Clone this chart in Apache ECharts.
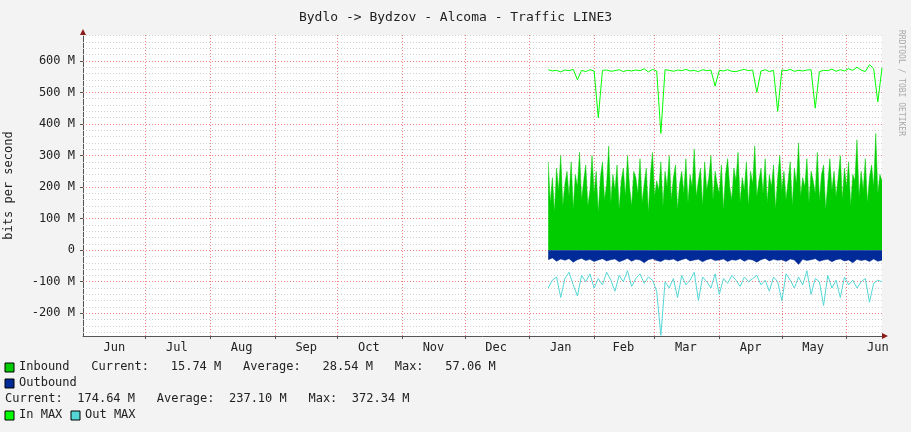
<!DOCTYPE html>
<html><head><meta charset="utf-8">
<script src="https://cdn.jsdelivr.net/npm/echarts@6/dist/echarts.min.js"></script>
<style>html,body{margin:0;padding:0;background:#f3f3f3}#c{width:911px;height:432px}</style>
</head><body><div id="c"></div>
<script>
// x = days since 1 Jun (previous year)
const startDay = 223, stepDay = 2, stepDayIn = 1;
const monthBounds = [30,61,92,122,153,183,214,245,274,305,335,366];
const monthLabelPos = [15,45,76,107,137,168,198,229,259,289,320,350,381];
const monthLabels = ['Jun','Jul','Aug','Sep','Oct','Nov','Dec','Jan','Feb','Mar','Apr','May','Jun'];
const yTicks = [-200,-100,0,100,200,300,400,500,600];

const inMax = [572,568,570,565,571,569,573,540,570,566,572,568,420,570,571,567,569,572,566,570,568,571,569,575,565,573,568,370,572,570,567,571,569,573,568,570,566,572,569,571,520,570,568,572,567,566,570,573,569,571,500,568,572,566,570,440,571,569,573,567,570,568,571,572,450,566,570,569,574,567,572,568,575,570,580,571,566,588,575,470,578];
const inbound = [280,150,230,120,260,190,300,140,210,250,170,280,130,240,200,310,160,220,270,140,190,300,180,250,120,230,280,160,210,330,150,240,190,270,130,220,260,170,300,200,140,250,230,180,290,150,210,260,120,240,310,170,220,190,280,140,250,200,300,160,230,270,130,210,250,180,290,150,240,200,320,170,220,260,140,280,190,230,300,160,250,210,180,270,130,240,290,200,160,260,220,310,150,230,190,280,140,250,210,330,170,220,260,180,290,150,240,200,270,130,230,300,190,250,160,220,280,140,260,210,340,170,230,200,290,150,250,220,180,310,160,240,270,130,210,290,190,250,170,230,300,160,260,200,280,140,240,220,350,170,250,190,290,150,230,270,200,370,180,240,220];
const outbound = [-30,-25,-35,-28,-32,-27,-38,-30,-26,-33,-29,-36,-31,-27,-34,-30,-28,-37,-32,-26,-35,-29,-31,-40,-30,-27,-33,-36,-29,-31,-28,-35,-30,-26,-34,-31,-29,-37,-30,-27,-33,-31,-28,-36,-30,-32,-27,-35,-29,-31,-38,-30,-26,-34,-29,-32,-30,-36,-28,-31,-45,-29,-33,-30,-27,-35,-31,-29,-37,-30,-28,-34,-31,-40,-29,-33,-30,-36,-28,-35,-32];
const outMax = [-120,-95,-85,-150,-90,-70,-110,-145,-80,-100,-75,-120,-90,-110,-70,-95,-130,-80,-100,-65,-115,-90,-75,-105,-85,-95,-130,-270,-100,-120,-90,-150,-80,-110,-95,-70,-160,-85,-100,-120,-75,-140,-90,-105,-80,-95,-115,-85,-100,-90,-80,-110,-95,-130,-85,-100,-160,-75,-95,-120,-85,-110,-65,-140,-90,-100,-175,-80,-120,-95,-150,-85,-110,-95,-120,-100,-90,-165,-105,-95,-100];

function pairs(arr, step){ return arr.map((v,i)=>[startDay+i*step, v]); }
const minorY=[]; for(let v=-260; v<=680; v+=20){ if(v%100!==0) minorY.push(v); }
const majorY=[]; for(let v=-200; v<=600; v+=100) majorY.push(v);

const chart = echarts.init(document.getElementById('c'));
const font = 'DejaVu Sans Mono';
function gridSeries(arr, axis, color){
  return {type:'line', data:[], silent:true, z:1, color:color,
    markLine:{silent:true, symbol:'none', label:{show:false}, animation:false,
      lineStyle:{color:color, type:[1,2], width:1},
      emphasis:{disabled:true},
      data: arr.map(v => ({[axis]: v}))}};
}
const dataSeries = (o) => Object.assign({type:'line', zlevel:1, symbol:'none', silent:true}, o);
chart.setOption({
  animation:false,
  backgroundColor:'#f3f3f3',
  textStyle:{fontFamily:font},
  title:{text:'Bydlo -> Bydzov - Alcoma - Traffic LINE3', left:'center', top:6,
    textStyle:{fontFamily:font, fontSize:13, fontWeight:'normal', color:'#222'}},
  grid:{left:83, right:29, top:35, bottom:96, show:true, backgroundColor:'#fff', borderWidth:0, containLabel:false, outerBoundsMode:'none'},
  xAxis:{type:'value', min:0, max:383,
    axisLine:{onZero:false, lineStyle:{color:'#555'}}, splitLine:{show:false},
    axisTick:{customValues:monthBounds, length:3, lineStyle:{color:'#555'}},
    axisLabel:{customValues:monthLabelPos, fontFamily:font, fontSize:12, color:'#222', margin:6,
      formatter:(v)=>monthLabels[monthLabelPos.indexOf(v)] || ''}},
  yAxis:{type:'value', min:-272, max:682, name:'bits per second', nameLocation:'middle', nameGap:68,
    nameTextStyle:{fontFamily:font, fontSize:12, color:'#222'},
    axisLine:{show:true, onZero:false, lineStyle:{color:'#555'}}, splitLine:{show:false},
    axisTick:{customValues:yTicks, length:3, inside:false},
    axisLabel:{customValues:yTicks, fontFamily:font, fontSize:12, color:'#222', margin:8,
      formatter:v=> v===0 ? '0' : v+' M'}},
  series:[
    gridSeries(minorY,'yAxis','#d0d0d0'),
    gridSeries(majorY,'yAxis','#f08080'),
    gridSeries(monthBounds,'xAxis','#f08080'),
    dataSeries({name:'Inbound', data:pairs(inbound,stepDayIn), lineStyle:{width:0.5,color:'#00cc00'}, areaStyle:{color:'#00cc00',opacity:1}}),
    dataSeries({name:'Outbound', data:pairs(outbound,stepDay), lineStyle:{width:0.5,color:'#002a97'}, areaStyle:{color:'#002a97',opacity:1}}),
    dataSeries({name:'In MAX', z:4, data:pairs(inMax,stepDay), lineStyle:{width:1,color:'#00ff00'}}),
    dataSeries({name:'Out MAX', z:4, data:pairs(outMax,stepDay), lineStyle:{width:1,color:'#55d6d6'}})
  ],
  graphic:[
    {type:'polygon', shape:{points:[[80,35],[86,35],[83,29]]}, style:{fill:'#8b1a1a'}},
    {type:'polygon', shape:{points:[[882,333],[882,339],[888,336]]}, style:{fill:'#8b1a1a'}},
    {type:'text', x:905, y:30, rotation:-Math.PI/2, style:{text:'RRDTOOL / TOBI OETIKER', fontFamily:font, fontSize:8, fill:'#aaa'}},
    {type:'rect', shape:{x:5,y:363,width:9,height:9}, style:{fill:'#00cc00',stroke:'#000'}},
    {type:'text', x:19, y:361, style:{text:'Inbound   Current:   15.74 M   Average:   28.54 M   Max:   57.06 M', fontFamily:font, fontSize:12, fill:'#222'}},
    {type:'rect', shape:{x:5,y:379,width:9,height:9}, style:{fill:'#002a97',stroke:'#000'}},
    {type:'text', x:19, y:377, style:{text:'Outbound', fontFamily:font, fontSize:12, fill:'#222'}},
    {type:'text', x:5, y:393, style:{text:'Current:  174.64 M   Average:  237.10 M   Max:  372.34 M', fontFamily:font, fontSize:12, fill:'#222'}},
    {type:'rect', shape:{x:5,y:411,width:9,height:9}, style:{fill:'#00ff00',stroke:'#000'}},
    {type:'text', x:19, y:409, style:{text:'In MAX', fontFamily:font, fontSize:12, fill:'#222'}},
    {type:'rect', shape:{x:71,y:411,width:9,height:9}, style:{fill:'#55d6d6',stroke:'#000'}},
    {type:'text', x:85, y:409, style:{text:'Out MAX', fontFamily:font, fontSize:12, fill:'#222'}}
  ]
});
</script></body></html>
